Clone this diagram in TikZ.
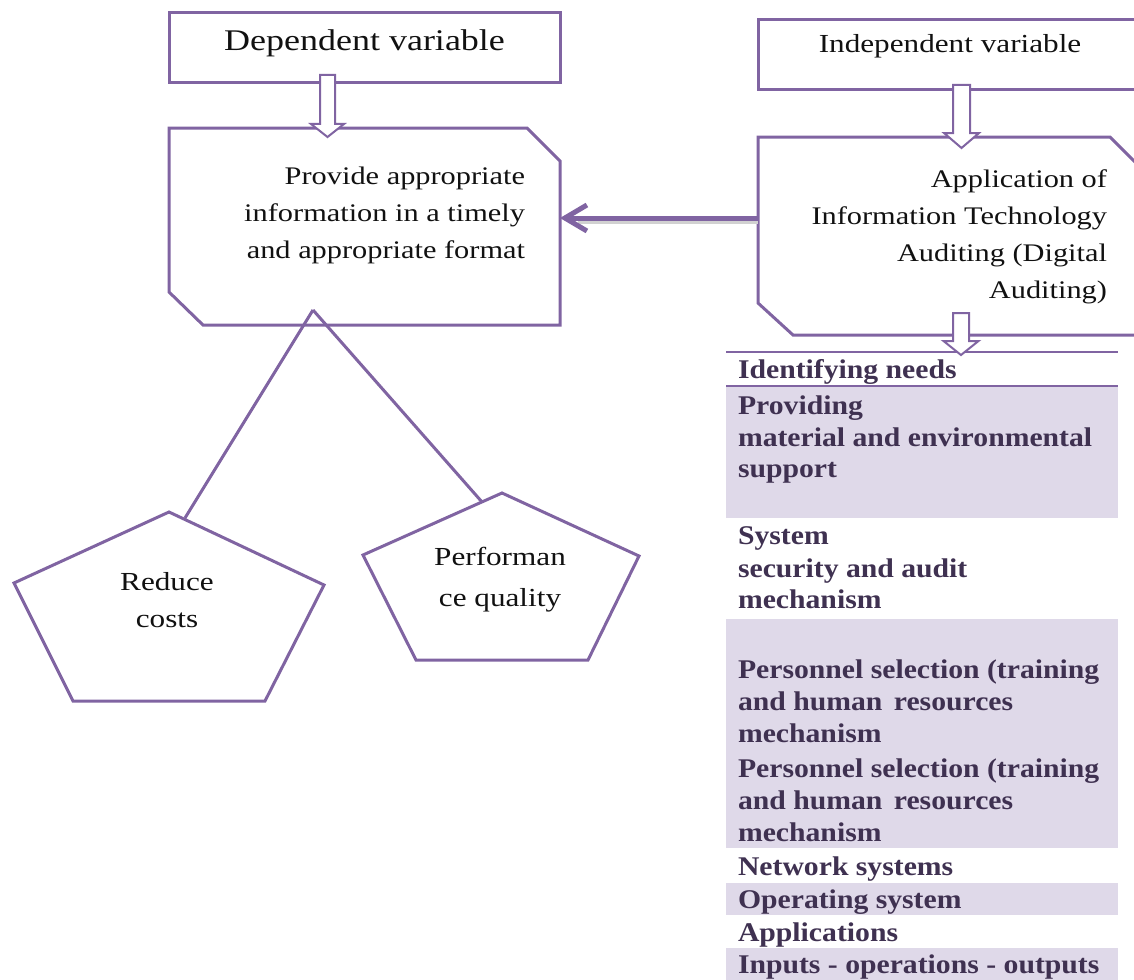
\documentclass[tikz,border=0pt]{standalone}
\usepackage{fontspec}
\setmainfont{Liberation Serif}[FakeStretch=1.2]
\newfontfamily\listfont{Liberation Serif}[FakeStretch=1.1]
\usetikzlibrary{arrows.meta}
\definecolor{vio}{HTML}{8064A2}
\definecolor{lav}{HTML}{DFD9E9}
\definecolor{ink}{HTML}{3F3151}
\definecolor{txtc}{HTML}{111111}
\tikzset{
  box/.style={draw=vio, line width=3pt, line join=miter},
  plainbox/.style={box, rectangle, inner sep=0pt, outer sep=0pt},
  blk/.style={draw=vio, line width=2pt, fill=white, line join=miter},
  conn/.style={draw=vio, line width=5pt, -{Straight Barb[length=22pt, width=26pt]}},
  shade/.style={draw=black!18, line width=5pt},
  leg/.style={draw=vio, line width=3pt},
  txt/.style={inner sep=0pt, outer sep=0pt, text=txtc},
  hA/.style={txt, font=\fontsize{30}{36}\selectfont},
  hB/.style={txt, font=\fontsize{26}{32}\selectfont},
  hC/.style={txt, font=\fontsize{25.3}{32}\selectfont},
  pent/.style={txt, font=\fontsize{26}{32}\selectfont},
  lst/.style={inner sep=0pt, outer sep=0pt, text=ink, anchor=base west,
              font=\listfont\bfseries\fontsize{27}{33}\selectfont},
  rule/.style={draw=vio, line width=1.5pt}
}
\newcommand{\blkarrow}[6]{% x, ytop, yhead, ytip, halfshaft, halfhead
  \draw[blk] (#1-#5,#2) -- (#1+#5,#2) -- (#1+#5,#3) -- (#1+#6,#3) -- (#1,#4)
    -- (#1-#6,#3) -- (#1-#5,#3) -- cycle;}
\begin{document}
\begin{tikzpicture}[x=1pt,y=-1pt]
\clip (0,0) rectangle (1134,979);
\fill[white] (0,0) rectangle (1134,979);

% ---------- list on the right ----------
\fill[lav] (726,387) rectangle (1118,518);
\fill[lav] (726,619) rectangle (1118,848);
\fill[lav] (726,883) rectangle (1118,915);
\fill[lav] (726,948) rectangle (1118,985);
\draw[rule] (726,352) -- (1118,352);
\draw[rule] (726,386) -- (1118,386);

\node[lst] (l1) at (738,378) {Identifying needs};
\node[lst] (l2) at (738,414) {Providing};
\node[lst] (l3) at (738,446) {material and environmental};
\node[lst] (l4) at (738,477) {support};
\node[lst] (l5) at (738,544) {System};
\node[lst] (l6) at (738,577) {security and audit};
\node[lst] (l7) at (738,608) {mechanism};
\node[lst] (l8) at (738,678) {Personnel selection (training};
\node[lst] (l9) at (738,710) {and human\hspace{4pt} resources};
\node[lst] (l10) at (738,742) {mechanism};
\node[lst] (l11) at (738,777) {Personnel selection (training};
\node[lst] (l12) at (738,809) {and human\hspace{4pt} resources};
\node[lst] (l13) at (738,841) {mechanism};
\node[lst] (l14) at (738,875) {Network systems};
\node[lst] (l15) at (738,908) {Operating system};
\node[lst] (l16) at (738,941) {Applications};
\node[lst] (l17) at (738,973) {Inputs - operations - outputs};

% ---------- boxes ----------
\node[plainbox, minimum width=391pt, minimum height=70pt] (dep) at (364.5,48) {};
\node[plainbox, minimum width=384pt, minimum height=70pt] (ind) at (950,55) {};
\draw[box] (169,128) -- (527,128) -- (560,161) -- (560,325) -- (203,325)
  -- (169,292) -- cycle;
\draw[box] (758,137) -- (1110,137) -- (1143,170) -- (1143,335) -- (793,335)
  -- (758,303) -- cycle;
\coordinate (provE) at (560,218);
\coordinate (appW) at (758,218);

% texts in boxes
\node[hA, anchor=base] (deptxt) at (364.5,51) {Dependent variable};
\node[hB, anchor=base] (indtxt) at (950,53) {Independent variable};
\node[hC, anchor=base east] (p1) at (525,184) {Provide appropriate};
\node[hC, anchor=base east] (p2) at (525,221) {information in a timely};
\node[hC, anchor=base east] (p3) at (525,258) {and appropriate format};
\node[hC, anchor=base east] (a1) at (1107,187) {Application of};
\node[hC, anchor=base east] (a2) at (1107,224) {Information Technology};
\node[hC, anchor=base east] (a3) at (1107,261) {Auditing (Digital};
\node[hC, anchor=base east] (a4) at (1107,298) {Auditing)};

% ---------- horizontal connector ----------
\draw[shade] ([yshift=-3pt]appW) -- ([xshift=18pt,yshift=-3pt]provE);
\draw[conn] (appW) -- (provE);

% ---------- block arrows ----------
\blkarrow{327.5}{75}{124}{137}{7.5}{16.5}
\blkarrow{961.5}{85}{133}{148}{8.5}{17.5}
\blkarrow{961}{313}{341}{355}{8}{17.5}

% ---------- legs to pentagons ----------
\coordinate (apex) at (313,310);
\coordinate (rcTop) at (185,518);
\coordinate (pqTop) at (482,502);
\draw[leg] (apex) -- (rcTop);
\draw[leg] (apex) -- (pqTop);

% ---------- pentagons ----------
\draw[box] (169,512) -- (324,585) -- (265,701) -- (73,701) -- (14,583) -- cycle;
\draw[box] (502,493) -- (639,556) -- (588,660) -- (416,660) -- (363,555) -- cycle;
\node[pent, anchor=base] (r1) at (167,590) {Reduce};
\node[pent, anchor=base] (r2) at (167,627) {costs};
\node[pent, anchor=base] (q1) at (500,565) {Performan};
\node[pent, anchor=base] (q2) at (500,606) {ce quality};
\end{tikzpicture}
\end{document}
